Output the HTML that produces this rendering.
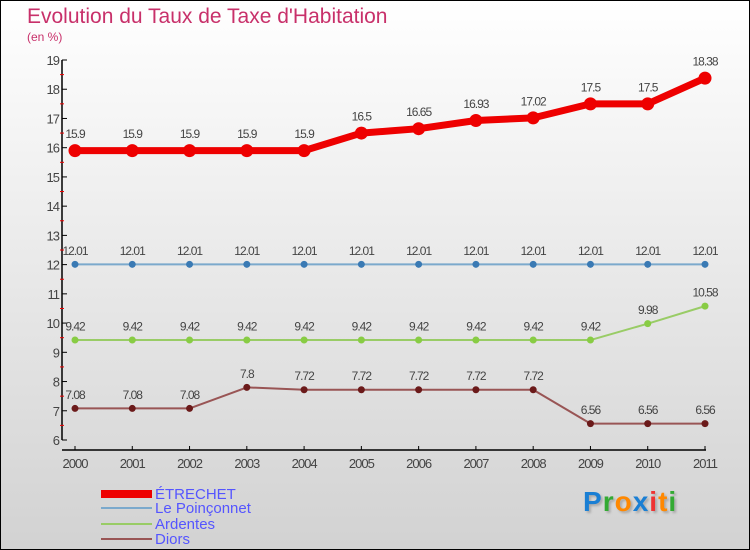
<!DOCTYPE html>
<html><head><meta charset="utf-8"><style>
body{margin:0;}
#wrap{width:748px;height:548px;border:1px solid #000;background:linear-gradient(#fff,#d2d2d2);position:relative;font-family:"Liberation Sans",sans-serif;overflow:hidden}
.title{position:absolute;left:26px;top:4px;font-size:21px;color:#c8306a}
.sub{position:absolute;left:26px;top:29px;font-size:12px;color:#c8306a}
.leg{position:absolute;left:125px;font-size:15px;color:#5555ff;line-height:15px}
.sw{position:absolute;left:100px;width:51px}
</style></head><body>
<div id="wrap">
<div class="title">Evolution du Taux de Taxe d'Habitation</div>
<div class="sub">(en %)</div>
<svg id="svg" width="748" height="548" style="position:absolute;left:0;top:0"></svg>
<div>
<div class="sw" style="height:8px;background:#e00;top:489px"></div>
<div class="leg" style="top:486px;left:154px">ÉTRECHET</div>
<div class="sw" style="top:506px;height:2px;background:#7ba9cc"></div>
<div class="leg" style="top:500px;left:154px">Le Poinçonnet</div>
<div class="sw" style="top:522px;height:2px;background:#9c6"></div>
<div class="leg" style="top:516px;left:154px">Ardentes</div>
<div class="sw" style="top:537px;height:2px;background:#955"></div>
<div class="leg" style="top:531px;left:154px">Diors</div>
</div>
<div style="position:absolute;left:582px;top:485px;font-size:28px;font-weight:bold;letter-spacing:1px;text-shadow:2px 2px 2px #aaa"><span style="color:#1a7fd4">P</span><span style="color:#3a3">r</span><span style="color:#f80">o</span><span style="color:#1a7fd4">x</span><span style="color:#e33">i</span><span style="color:#f80">t</span><span style="color:#3a3">i</span></div>
</div>
<script>
const years=[2000,2001,2002,2003,2004,2005,2006,2007,2008,2009,2010,2011];
const etrechet=[15.9,15.9,15.9,15.9,15.9,16.5,16.65,16.93,17.02,17.5,17.5,18.38];
const etrechetLabels=["15.9","15.9","15.9","15.9","15.9","16.5","16.65","16.93","17.02","17.5","17.5","18.38"];
const poinconnet=[12.01,12.01,12.01,12.01,12.01,12.01,12.01,12.01,12.01,12.01,12.01,12.01];
const poinconnetLabels=["12.01","12.01","12.01","12.01","12.01","12.01","12.01","12.01","12.01","12.01","12.01","12.01"];
const ardentes=[9.42,9.42,9.42,9.42,9.42,9.42,9.42,9.42,9.42,9.42,9.98,10.58];
const ardentesLabels=["9.42","9.42","9.42","9.42","9.42","9.42","9.42","9.42","9.42","9.42","9.98","10.58"];
const diors=[7.08,7.08,7.08,7.8,7.72,7.72,7.72,7.72,7.72,6.56,6.56,6.56];
const diorsLabels=["7.08","7.08","7.08","7.8","7.72","7.72","7.72","7.72","7.72","6.56","6.56","6.56"];
const yTicks=[6,7,8,9,10,11,12,13,14,15,16,17,18,19];
const NS="http://www.w3.org/2000/svg";
const svg=document.getElementById('svg');
const X=i=>74+i*(630/11);
const Y=v=>439-(v-6)*(380/13);
function mk(t,a,p){const e=document.createElementNS(NS,t);for(const k in a)e.setAttribute(k,a[k]);(p||svg).appendChild(e);return e;}
let ax=mk('line',{x1:61,y1:Y(19),x2:61,y2:Y(6),stroke:'#000','stroke-width':1.5});


let bx=mk('line',{x1:61,y1:449,x2:705,y2:449,stroke:'#000','stroke-width':1.5});


yTicks.forEach(v=>{
  mk('line',{x1:61,y1:Y(v),x2:66,y2:Y(v),stroke:'#000'});
  if(v<19)mk('line',{x1:59,y1:Y(v+0.5),x2:63,y2:Y(v+0.5),stroke:'#e00'});
  const t=mk('text',{x:58,y:Y(v)+5,'text-anchor':'end','font-size':13,fill:'#444','letter-spacing':'-1'});
  t.textContent=v;
  
  
});
years.forEach((y,i)=>{
  mk('line',{x1:X(i),y1:445,x2:X(i),y2:449,stroke:'#000'});
  const t=mk('text',{x:X(i),y:467,'text-anchor':'middle','font-size':13,fill:'#444','letter-spacing':'-1'});
  t.textContent=y;
  
  
});
function series(name,vals,labels,color,lw,r,dot){
  const g=mk('g',{});
  
  
  const pl=mk('polyline',{points:vals.map((v,i)=>X(i)+','+Y(v)).join(' '),fill:'none',stroke:color,'stroke-width':lw,'stroke-linejoin':'round'},g);
  
  
  vals.forEach((v,i)=>{
    const c=mk('circle',{cx:X(i),cy:Y(v),r:r,fill:dot},g);
    
    
    const t=mk('text',{x:X(i),y:Y(v)-(r+6),'text-anchor':'middle','font-size':12,fill:'#444','letter-spacing':'-1'},g);
    t.textContent=labels[i];
    
    
  });
}
series('diors',diors,diorsLabels,'#955',2,3.5,'#6b1a1a');
series('ardentes',ardentes,ardentesLabels,'#9c6',2,3.5,'#8c4');
series('le-poinconnet',poinconnet,poinconnetLabels,'#7ba9cc',2,3.5,'#3a7ab4');
series('etrechet',etrechet,etrechetLabels,'#e00',7,6.5,'#e00');
</script>
</body></html>
